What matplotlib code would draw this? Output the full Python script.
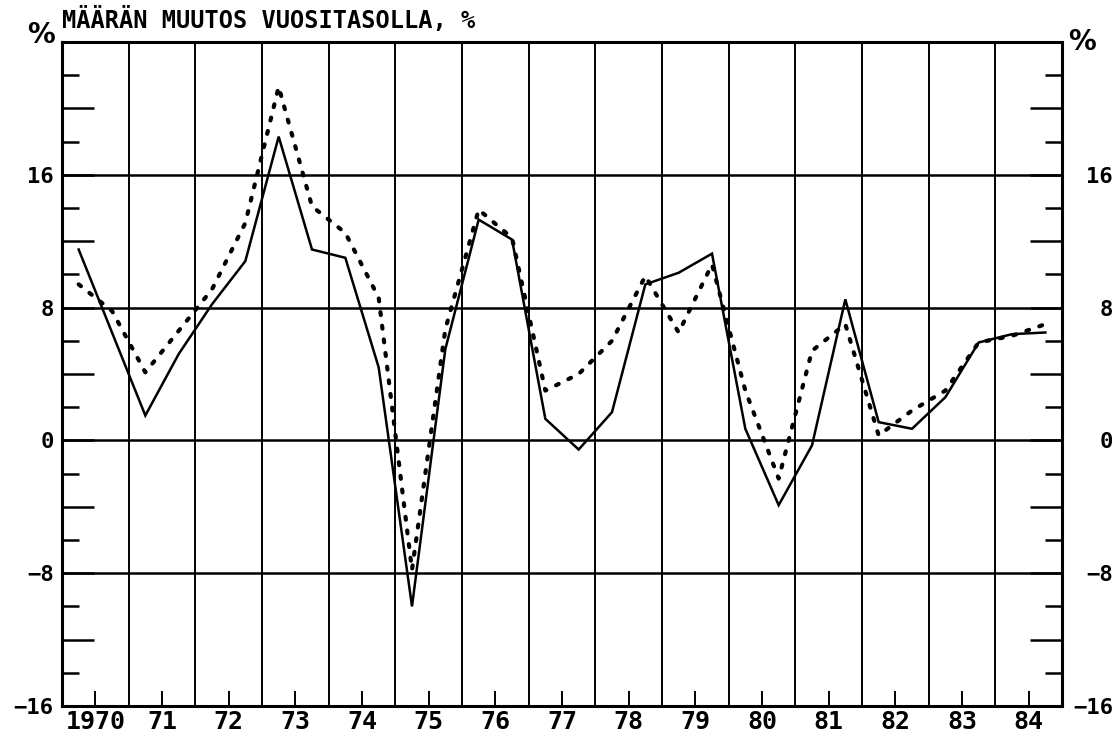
import matplotlib
matplotlib.use("Agg")
import matplotlib.pyplot as plt
import matplotlib.transforms as mtransforms
import numpy as np

# half-year points, 1970 H1 .. 1984 H2
solid = [11.5, 6.5, 1.5, 5.2, 8.2, 10.8, 18.3, 11.5, 11.0, 4.4,
         -10.0, 5.5, 13.3, 12.1, 1.3, -0.55, 1.7, 9.4, 10.1, 11.25,
         0.7, -3.9, -0.3, 8.5, 1.1, 0.7, 2.6, 5.9, 6.4, 6.5]
dotted = [9.4, 7.8, 4.1, 6.6, 9.1, 13.1, 21.3, 14.1, 12.5, 8.6,
          -7.8, 6.7, 13.9, 12.2, 3.0, 4.0, 6.0, 9.9, 6.5, 10.6,
          3.0, -2.3, 5.4, 7.0, 0.3, 1.8, 3.0, 5.9, 6.3, 7.0]
years = list(range(1970, 1985))
year_labels = ["1970"] + [str(y)[2:] for y in years[1:]]
y_grid = [-8, 0, 8, 16]
title = "MÄÄRÄN MUUTOS VUOSITASOLLA, %"

font = "DejaVu Sans Mono"
plt.rcParams["font.family"] = [font, "DejaVu Sans"]
plt.rcParams["font.weight"] = "bold"

fig = plt.figure(figsize=(11.19, 7.41), dpi=100)
ax = fig.add_axes([62 / 1119, 35 / 741, 1000 / 1119, 664 / 741])

x = [years[0] + 0.25 + 0.5 * i for i in range(len(solid))]
ax.plot(x, solid, color="black", lw=1.8, solid_joinstyle="miter")
ax.plot(x, dotted, color="black", lw=3.0, dashes=(0.7, 2.6),
        dash_capstyle="round")

ax.set_xlim(years[0], years[-1] + 1)
ax.set_ylim(-16, 24)

for g in y_grid:
    ax.axhline(g, color="black", lw=1.8, zorder=1)

# x: year boundaries as grid, labels on mid-year ticks
ax.set_xticks(years[1:])
ax.tick_params(axis="x", which="major", length=0, labelbottom=False)
ax.grid(axis="x", which="major", color="black", lw=1.4)
ax.set_xticks([y + 0.5 for y in years], labels=year_labels, minor=True)
ax.tick_params(axis="x", which="minor", direction="in", length=11,
               width=1.4, labelsize=18, pad=3, top=False)

# y: long ticks every 4, short every 2, labels every 8
maj = np.arange(-16, 25, 4)
ax.set_yticks(maj, labels=[str(int(v)).replace("-", "\u2212")
                           if v % 8 == 0 and v <= 16 else "" for v in maj])
ax.set_yticks(np.arange(-14, 24, 4), minor=True)
ax.tick_params(axis="y", which="major", direction="in", length=23,
               width=1.8, labelsize=16, left=True, right=True,
               labelleft=True, labelright=True, pad=6)
ax.tick_params(axis="y", which="minor", direction="in", length=12,
               width=1.8, left=True, right=True)
fig.canvas.draw()
for tk in ax.yaxis.get_major_ticks():
    tk.label2.set_horizontalalignment("right")
    tk.label2.set_x(1.0)
    tk.label2.set_transform(ax.get_yaxis_transform() +
                            mtransforms.ScaledTranslation(
                                51 / 100, 0, fig.dpi_scale_trans))

for s in ax.spines.values():
    s.set_linewidth(2.2)

ax.text(-0.007, 1.01, "%", transform=ax.transAxes, ha="right", va="center",
        fontsize=20, family="DejaVu Sans")
ax.text(1.006, 1.0, "%", transform=ax.transAxes, ha="left", va="center",
        fontsize=20, family="DejaVu Sans")

fig.text(62 / 1119, 1 - 20 / 741, title, ha="left", va="center",
         fontsize=17)

fig.savefig("out.png", dpi=100)
